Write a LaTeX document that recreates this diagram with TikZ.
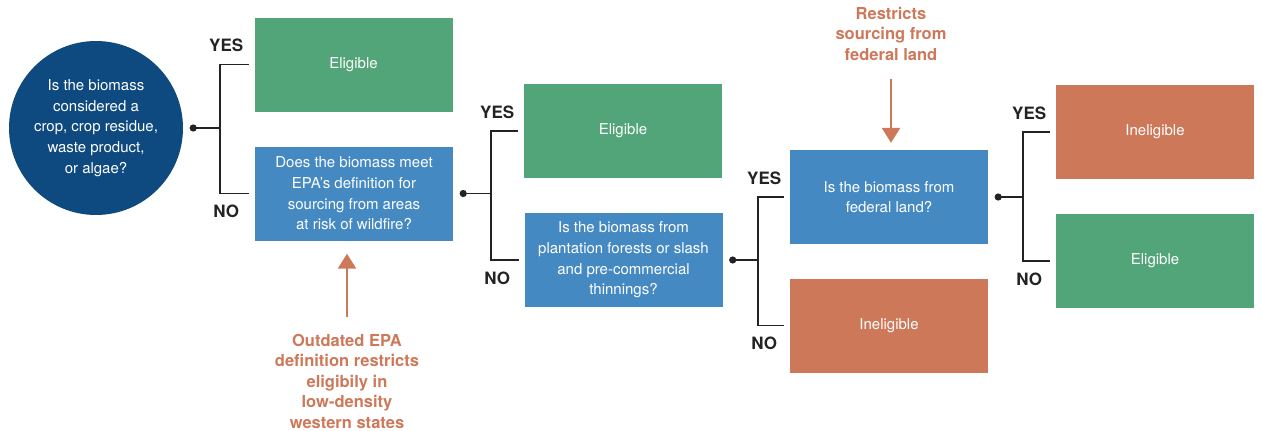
\documentclass[tikz,border=0pt]{standalone}
\usepackage{fontspec}
\setmainfont{TeX Gyre Heros}
\usetikzlibrary{calc,arrows.meta,positioning}
\definecolor{okColor}{RGB}{82,165,121}
\definecolor{askColor}{RGB}{69,137,195}
\definecolor{startColor}{RGB}{14,74,127}
\definecolor{noColor}{RGB}{206,120,90}
\definecolor{lineColor}{RGB}{35,35,35}
\newcommand{\boxfont}{\fontsize{15}{20.7}\selectfont}
\newcommand{\answerfont}{\fontsize{17}{20}\selectfont\bfseries}
\newcommand{\notefont}{\fontsize{16.5}{20.5}\selectfont\bfseries}
% yes/no fork: source, yes box, no box, bar offset
\newcommand{\branchoff}[4]{%
  \coordinate (#1-dot) at ($(#1.east)+(10,0)$);
  \coordinate (#1-bar) at ($(#1.east)+(#4,0)$);
  \coordinate (#1-yes) at ($(#2.west)+(-5.5,0)$);
  \coordinate (#1-no) at ($(#3.west)+(-5.5,0)$);
  \draw[link] (#1-yes) -| (#1-bar) |- (#1-no);
  \draw[link] (#1-dot) -- (#1-bar);
  \fill[lineColor] (#1-dot) circle (3.6);
  \node[answer] (#1-ylabel) at ($(#1-bar |- #1-yes)+(6,-19)$) {YES};
  \node[answer] (#1-nlabel) at ($(#1-bar |- #1-no)+(6,18)$) {NO};
}

\begin{document}
\begin{tikzpicture}[x=1pt, y=-1pt,
    tile/.style={minimum width=198, minimum height=94, inner sep=0, align=center, text=white, font=\boxfont},
    okbox/.style={tile, fill=okColor},
    askbox/.style={tile, fill=askColor},
    nobox/.style={tile, fill=noColor},
    start/.style={circle, fill=startColor, minimum size=174, inner sep=0, align=center, text=white, font=\boxfont},
    answer/.style={inner sep=0, text=lineColor, font=\answerfont},
    note/.style={inner sep=0, align=center, text=noColor, font=\notefont},
    link/.style={line width=1.8, lineColor},
    warn/.style={-{Triangle[length=15, width=18]}, line width=2.6, noColor}
  ]
  \useasboundingbox (0,0) rectangle (1262,431);

  \node[start] (q1) at (96,128) {Is the biomass\\considered a\\crop, crop residue,\\waste product,\\or algae?};
  \node[okbox] (e1) at (353.5,64.5) {Eligible};
  \node[askbox] (q2) at (354,193.5) {Does the biomass meet\\EPA’s definition for\\sourcing from areas\\at risk of wildfire?};
  \node[okbox] (e2) at (623,131) {Eligible};
  \node[askbox] (q3) at (623.5,260) {Is the biomass from\\plantation forests or slash\\and pre-commercial\\thinnings?};
  \node[askbox] (q4) at (889,197) {Is the biomass from\\federal land?};
  \node[nobox] (n1) at (889,325.5) {Ineligible};
  \node[nobox] (n2) at (1155,132) {Ineligible};
  \node[okbox] (e3) at (1155,261) {Eligible};

  \node[note, anchor=north] (epanote) at (347,334) {Outdated EPA\\definition restricts\\eligibily in\\low-density\\western states};
  \node[note, anchor=north] (fednote) at (891,7) {Restricts\\sourcing from\\federal land};

  \branchoff{q1}{e1}{q2}{37}
  \branchoff{q2}{e2}{q3}{38}
  \branchoff{q3}{q4}{n1}{35.5}
  \branchoff{q4}{n2}{e3}{35}

  \draw[warn, shorten <=17, shorten >=13] (epanote.north) -- (epanote.north |- q2.south);
  \draw[warn, shorten <=18, shorten >=7] (fednote.south) -- (fednote.south |- q4.north);
\end{tikzpicture}
\end{document}
